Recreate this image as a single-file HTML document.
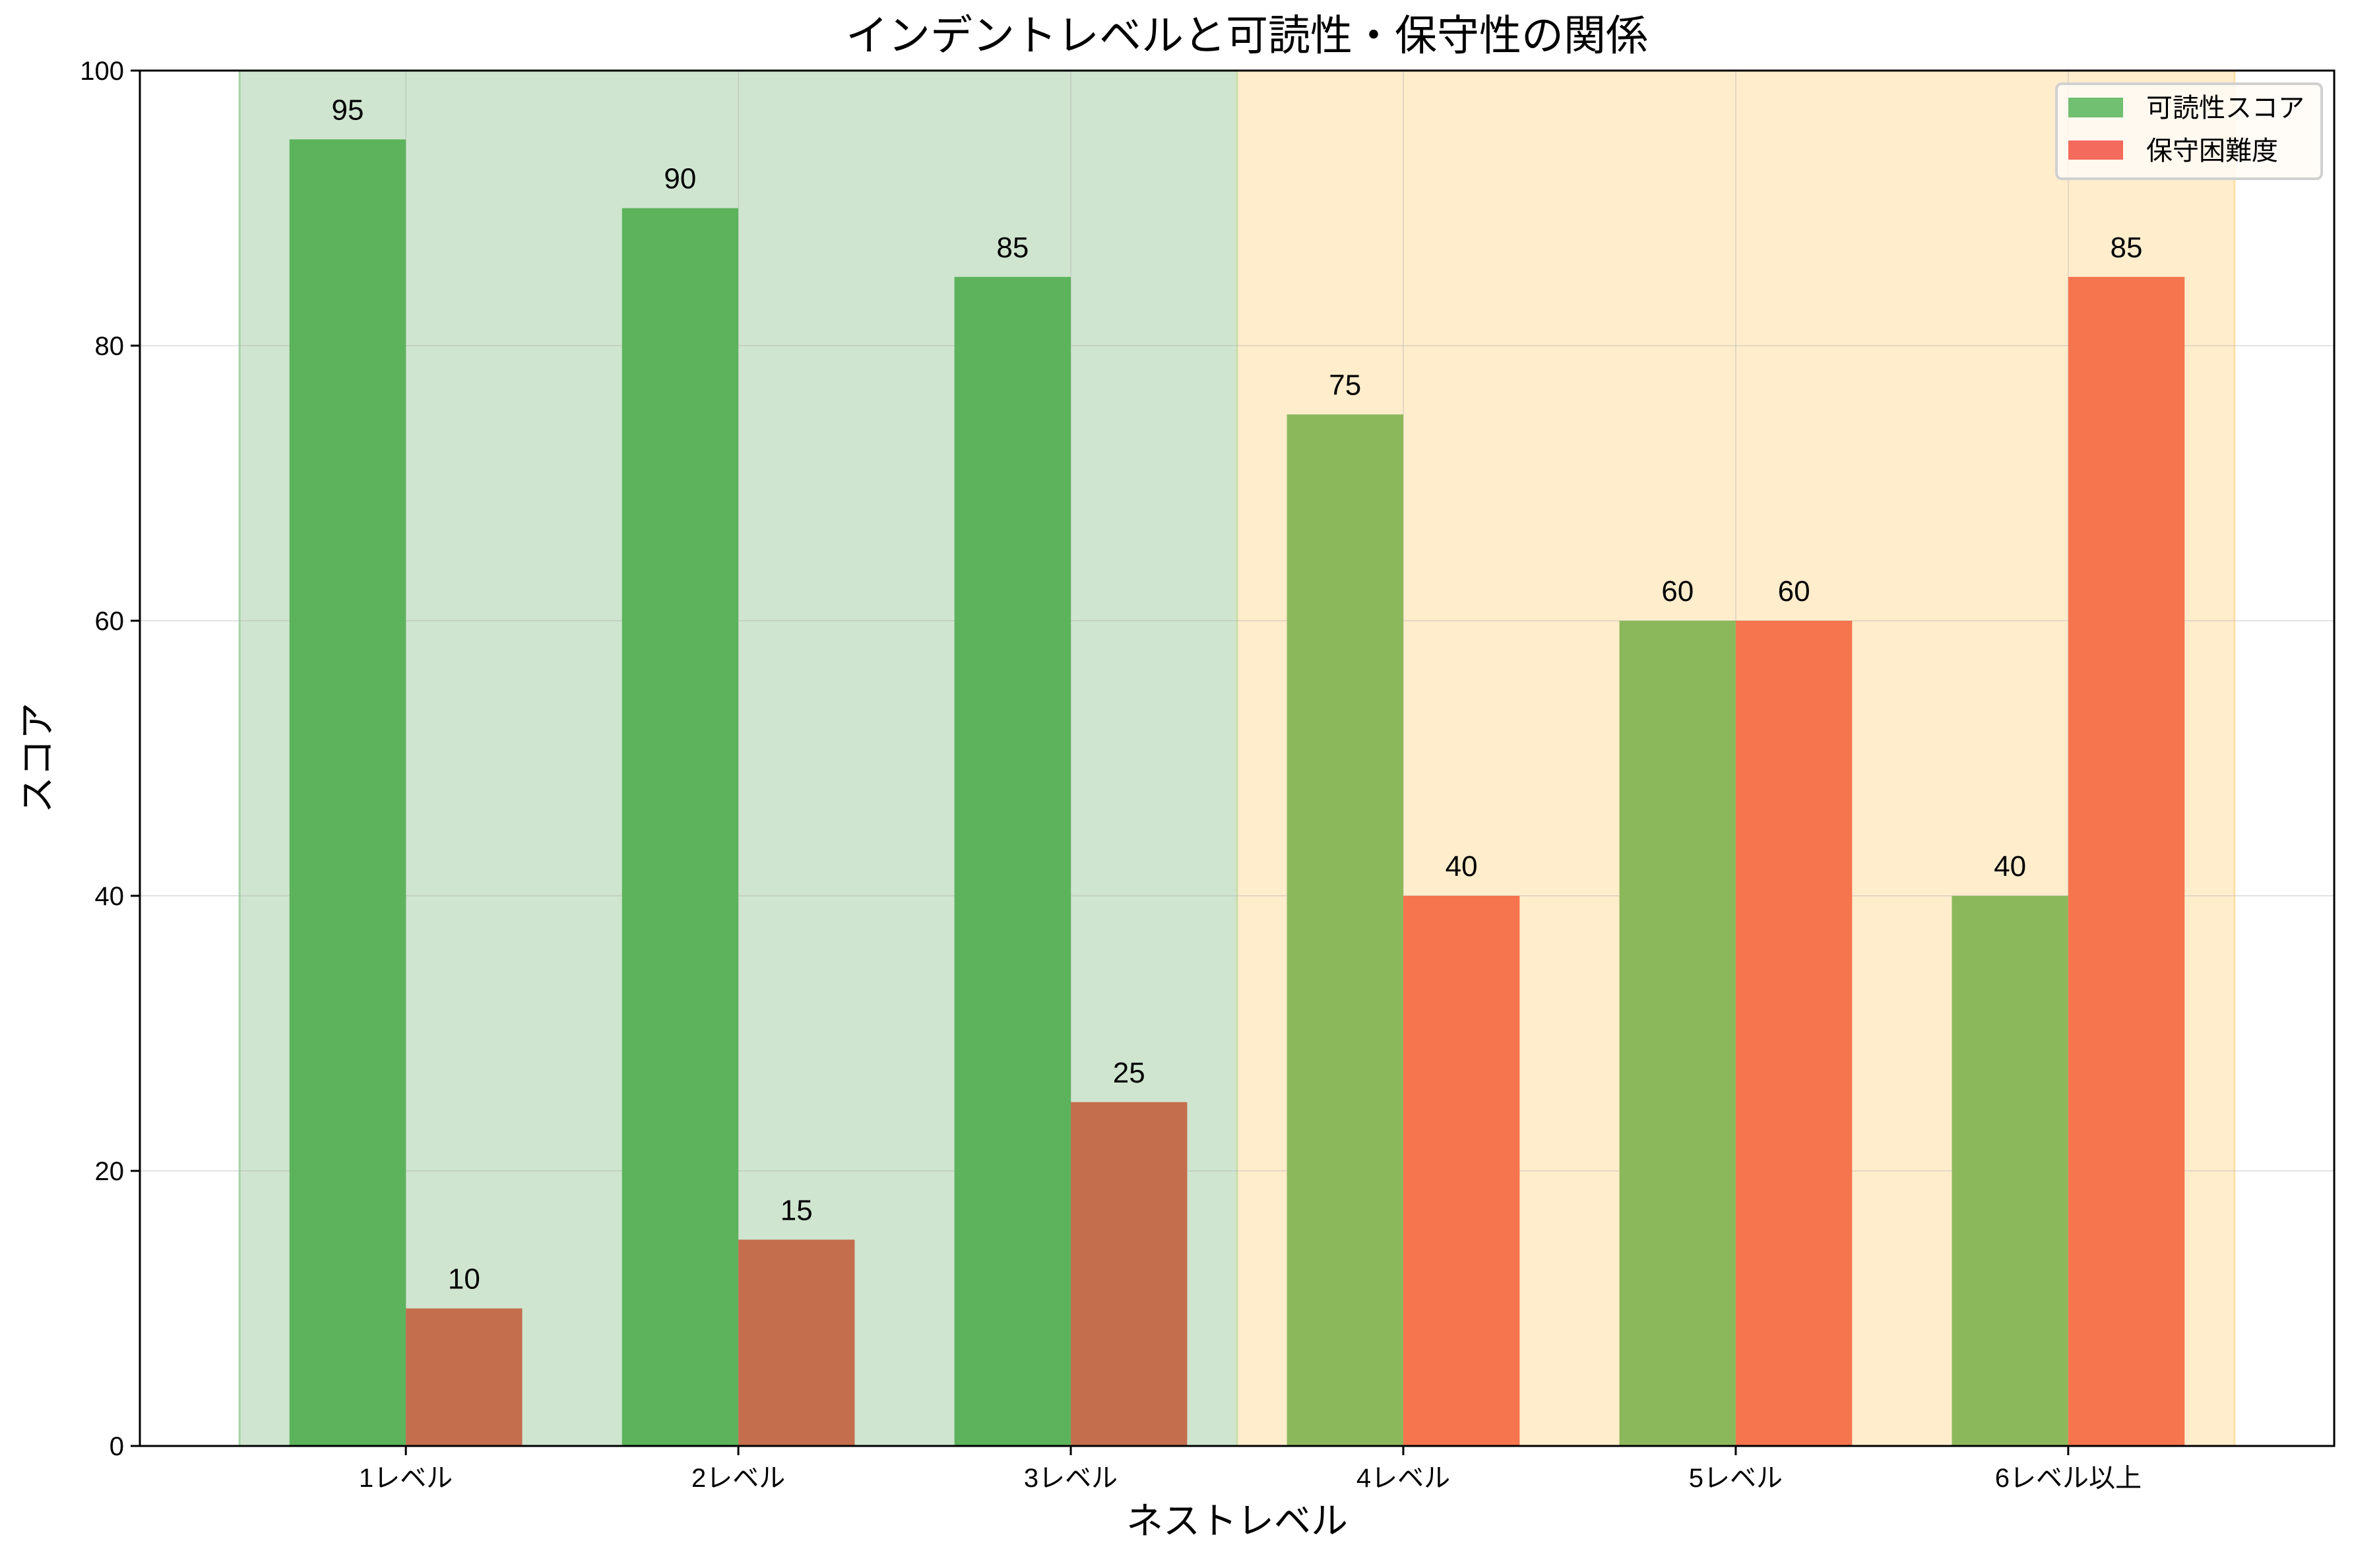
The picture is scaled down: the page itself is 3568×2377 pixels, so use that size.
<!DOCTYPE html>
<html><head><meta charset="utf-8"><style>
html,body{margin:0;padding:0;background:#fff;}
svg text{font-family:"Liberation Sans","DejaVu Sans","Noto Sans CJK JP",sans-serif;}
</style></head><body>
<svg id="chart" width="3568" height="2372" viewBox="0 0 3568 2372" xmlns="http://www.w3.org/2000/svg">
<rect width="3568" height="2372" fill="#fff"/>
<g id="plot"></g>
<text x="1890" y="76" font-size="64" text-anchor="middle" fill="#000">インデントレベルと可読性・保守性の関係</text>
<text x="1875" y="2325" font-size="56" text-anchor="middle" fill="#000">ネストレベル</text>
<text x="0" y="0" font-size="56" text-anchor="middle" fill="#000" transform="translate(76,1149) rotate(-90)">スコア</text>
<g>
<rect x="3117" y="127" width="402" height="144" rx="8" fill="#fffaf5" fill-opacity="0.85" stroke="#d0d0d0" stroke-width="4"/>
<rect x="3135" y="148" width="83" height="30" fill="#71bf71"/>
<text x="3253" y="177" font-size="40" fill="#000">可読性スコア</text>
<rect x="3135" y="213" width="83" height="29" fill="#f46a5c"/>
<text x="3253" y="242" font-size="40" fill="#000">保守困難度</text>
</g>
</svg>
<script>
const categories = ["1レベル","2レベル","3レベル","4レベル","5レベル","6レベル以上"];
const readability = [95, 90, 85, 75, 60, 40];
const difficulty = [10, 15, 25, 40, 60, 85];
const yTicks = [0, 20, 40, 60, 80, 100];

const L = 212, R = 3538, T = 107, B = 2192;
const xMin = -0.8, xMax = 5.8, yMin = 0, yMax = 100;
function xs(v){ return L + (v - xMin) / (xMax - xMin) * (R - L); }
function ys(v){ return B - (v - yMin) / (yMax - yMin) * (B - T); }
const NS = "http://www.w3.org/2000/svg";
const g = document.getElementById('plot');
function mk(tag, attrs){ const e = document.createElementNS(NS, tag); for (const k in attrs) e.setAttribute(k, attrs[k]); g.appendChild(e); return e; }

// spans
let s1 = mk('rect', {x: xs(-0.5), y: T, width: xs(2.5) - xs(-0.5), height: B - T, fill: '#cfe5cf'});


let s1e = mk('line', {x1: xs(-0.5), x2: xs(-0.5), y1: T, y2: B, stroke: '#a6d3a6', 'stroke-width': 3});


let s2 = mk('rect', {x: xs(2.5), y: T, width: xs(5.5) - xs(2.5), height: B - T, fill: '#ffedcc'});


let s2e = mk('line', {x1: xs(2.5), x2: xs(2.5), y1: T, y2: B, stroke: '#c9dfa8', 'stroke-width': 3});


let s3e = mk('line', {x1: xs(5.5), x2: xs(5.5), y1: T, y2: B, stroke: '#ffe0a8', 'stroke-width': 3});



// grid
yTicks.forEach(t => {
  const ln = mk('line', {x1: L, x2: R, y1: ys(t), y2: ys(t), stroke: '#b0b0b0', 'stroke-opacity': 0.35, 'stroke-width': 2});
  
  
});
categories.forEach((c, i) => {
  const ln = mk('line', {x1: xs(i), x2: xs(i), y1: T, y2: B, stroke: '#b0b0b0', 'stroke-opacity': 0.35, 'stroke-width': 2});
  
  
});

// bars
const bw = 0.35;
function label(x, v){
  const t = mk('text', {x: x, y: ys(v) - 30, 'font-size': 44, 'text-anchor': 'middle', fill: '#000'});
  t.textContent = v;
  
  
}
categories.forEach((c, i) => {
  const good = i < 3;
  const v1 = readability[i];
  const b1 = mk('rect', {x: xs(i - bw), y: ys(v1), width: xs(bw) - xs(0), height: ys(0) - ys(v1), fill: good ? '#5cb35c' : '#8cb85c'});
  
  
  label(xs(i - bw / 2), v1);
  const v2 = difficulty[i];
  const b2 = mk('rect', {x: xs(i), y: ys(v2), width: xs(bw) - xs(0), height: ys(0) - ys(v2), fill: good ? '#c46e4e' : '#f6754f'});
  
  
  label(xs(i + bw / 2), v2);
});

// axes frame
const fr = mk('rect', {x: L, y: T, width: R - L, height: B - T, fill: 'none', stroke: '#000', 'stroke-width': 3});



yTicks.forEach(t => {
  const tk = mk('line', {x1: L - 14, x2: L, y1: ys(t), y2: ys(t), stroke: '#000', 'stroke-width': 3});
  
  
  const tl = mk('text', {x: L - 24, y: ys(t) + 14, 'font-size': 40, 'text-anchor': 'end', fill: '#000'});
  tl.textContent = t;
  
  
});
categories.forEach((c, i) => {
  const tk = mk('line', {x1: xs(i), x2: xs(i), y1: B, y2: B + 14, stroke: '#000', 'stroke-width': 3});
  
  
  const tl = mk('text', {x: xs(i), y: B + 62, 'font-size': 40, 'text-anchor': 'middle', fill: '#000'});
  tl.textContent = c;
  
  
});
</script>
</body></html>
